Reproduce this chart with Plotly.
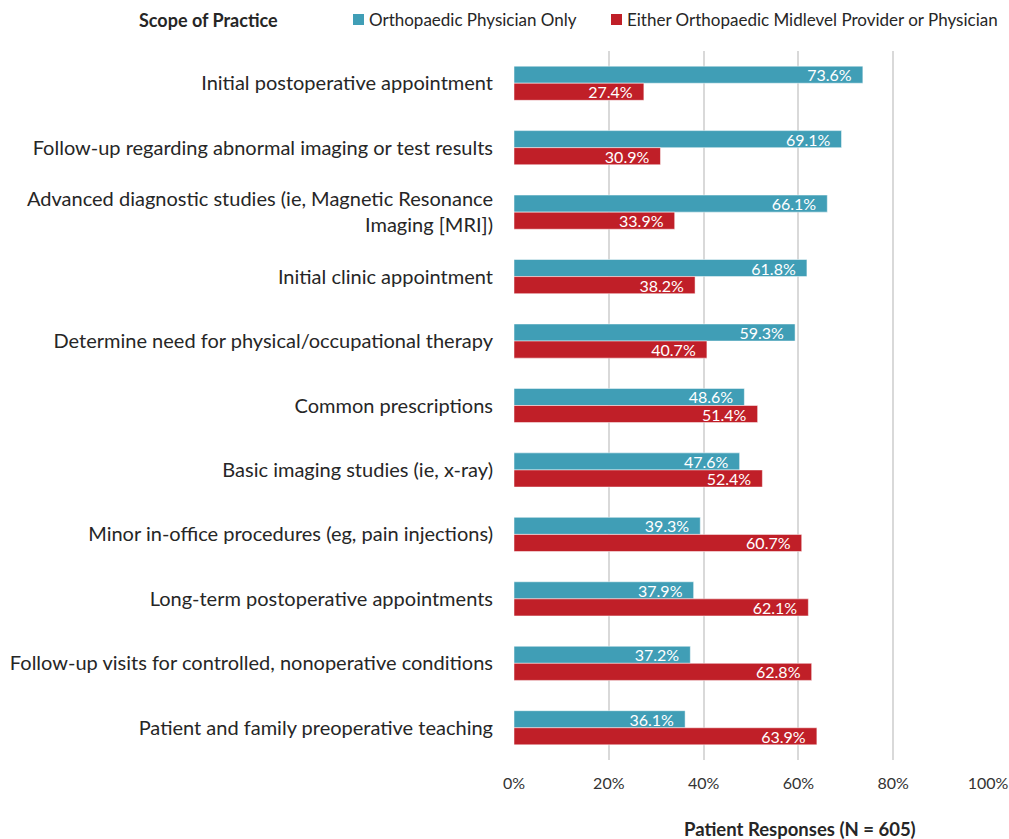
import plotly.graph_objects as go

categories = [
    "Initial postoperative appointment",
    "Follow-up regarding abnormal imaging or test results",
    "Advanced diagnostic studies (ie, Magnetic Resonance<br>Imaging [MRI])",
    "Initial clinic appointment",
    "Determine need for physical/occupational therapy",
    "Common prescriptions",
    "Basic imaging studies (ie, x-ray)",
    "Minor in-office procedures (eg, pain injections)",
    "Long-term postoperative appointments",
    "Follow-up visits for controlled, nonoperative conditions",
    "Patient and family preoperative teaching",
]
series_names = ["Orthopaedic Physician Only", "Either Orthopaedic Midlevel Provider or Physician"]
physician_only = [73.6, 69.1, 66.1, 61.8, 59.3, 48.6, 47.6, 39.3, 37.9, 37.2, 36.1]
either = [27.4, 30.9, 33.9, 38.2, 40.7, 51.4, 52.4, 60.7, 62.1, 62.8, 63.9]
tick_vals = [0, 20, 40, 60, 80, 100]
tick_text = ["0%", "20%", "40%", "60%", "80%", "100%"]

FONT = "Lato"
TEAL = "#409EB6"
RED = "#C01F28"
TXT = "#262626"

W, H = 1009, 839
L, R, T, B = 514, 21, 51, 79
PW, PH = W - L - R, H - T - B


def px(x):
    return (x - L) / PW


def py(y):
    return (H - B - y) / PH


fig = go.Figure()
for name, vals, col in [(series_names[0], physician_only, TEAL), (series_names[1], either, RED)]:
    fig.add_trace(go.Bar(
        y=categories, x=vals, orientation="h", name=name,
        marker=dict(color=col, line=dict(color="white", width=0.5)),
        text=[f"{v:.1f}%\u00a0\u00a0" for v in vals], textposition="inside",
        insidetextanchor="end", constraintext="none",
        textfont=dict(color="white", size=16, family=FONT),
    ))

shapes = [
    dict(type="rect", xref="paper", yref="paper", x0=px(353), x1=px(364), y0=py(25), y1=py(14),
         fillcolor=TEAL, line=dict(width=0)),
    dict(type="rect", xref="paper", yref="paper", x0=px(611), x1=px(622), y0=py(25), y1=py(14),
         fillcolor=RED, line=dict(width=0)),
]
annotations = [
    dict(text="<b>Scope of Practice</b>", x=px(137), y=py(20), xanchor="left", yanchor="middle",
         xref="paper", yref="paper", showarrow=False, font=dict(size=18, family=FONT, color=TXT)),
    dict(text=series_names[0], x=px(367), y=py(19), xanchor="left", yanchor="middle",
         xref="paper", yref="paper", showarrow=False, font=dict(size=17, family=FONT, color=TXT)),
    dict(text=series_names[1], x=px(625), y=py(19), xanchor="left", yanchor="middle",
         xref="paper", yref="paper", showarrow=False, font=dict(size=17, family=FONT, color=TXT)),
    dict(text="<b>Patient Responses (N = 605)</b>", x=px(800), y=py(829), xanchor="center",
         yanchor="middle", xref="paper", yref="paper", showarrow=False,
         font=dict(size=18.5, family=FONT, color=TXT)),
]

fig.update_layout(
    width=W, height=H,
    margin=dict(l=L, r=R, t=T, b=B),
    barmode="group", bargap=0.47, bargroupgap=0,
    plot_bgcolor="white", paper_bgcolor="white",
    font=dict(family=FONT, color=TXT),
    showlegend=False,
    shapes=shapes,
    annotations=annotations,
    xaxis=dict(
        range=[0, 100], tickvals=tick_vals, ticktext=tick_text,
        showgrid=True, gridcolor="#D9D9D9", gridwidth=2,
        zeroline=False, showline=False, automargin=False,
        tickfont=dict(size=16, family=FONT, color="#333333"), ticks="",
        ticklabelstandoff=12,
    ),
    yaxis=dict(
        categoryorder="array", categoryarray=categories,
        autorange="reversed", automargin=False,
        tickfont=dict(size=20, family=FONT, color=TXT), ticks="",
        showgrid=False, ticklabelstandoff=20,
    ),
)

fig.write_html("out.html")
